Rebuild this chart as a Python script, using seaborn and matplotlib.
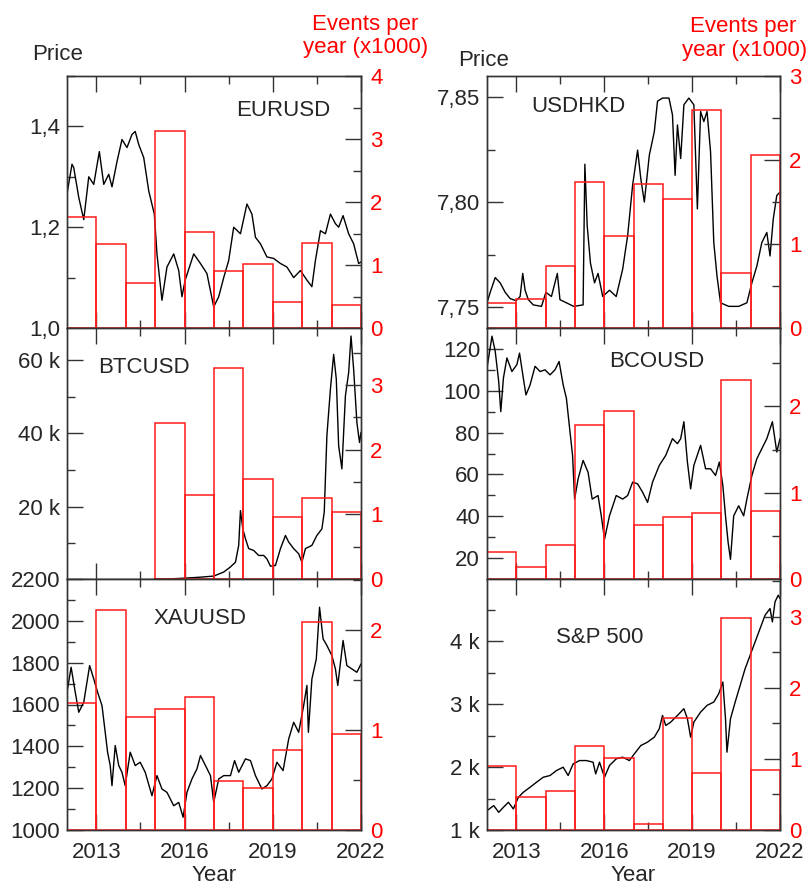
from __future__ import annotations

import matplotlib

matplotlib.use("Agg")

import matplotlib.pyplot as plt
import pandas as pd
import seaborn as sns
from matplotlib.ticker import FixedLocator, FuncFormatter, MultipleLocator

# yearly bins of the event histograms (left edges)
BIN_YEARS = list(range(2012, 2022))

# events per year (x1000), one value per bin
eurusd_events = [1.76, 1.33, 0.71, 3.13, 1.52, 0.90, 1.02, 0.41, 1.35, 0.37]
usdhkd_events = [0.30, 0.34, 0.74, 1.74, 1.09, 1.72, 1.54, 2.59, 0.65, 2.06]
btcusd_events = [0, 0, 0, 2.41, 1.30, 3.26, 1.54, 0.96, 1.25, 1.03]
bcousd_events = [0.31, 0.14, 0.39, 1.78, 1.95, 0.63, 0.72, 0.77, 2.31, 0.79]
xauusd_events = [1.27, 2.20, 1.13, 1.21, 1.33, 0.49, 0.42, 0.80, 2.08, 0.96]
spx_events = [0.90, 0.47, 0.55, 1.18, 1.01, 0.08, 1.58, 0.80, 2.98, 0.84]

# price series as (decimal year, price)
eurusd_price = [
    (2012.00, 1.266), (2012.17, 1.325), (2012.23, 1.318), (2012.40, 1.259), (2012.57, 1.215),
    (2012.74, 1.300), (2012.91, 1.285), (2013.10, 1.350), (2013.25, 1.285), (2013.42, 1.305),
    (2013.53, 1.280), (2013.70, 1.330), (2013.87, 1.374), (2014.04, 1.358), (2014.21, 1.384),
    (2014.32, 1.390), (2014.44, 1.364), (2014.61, 1.338), (2014.78, 1.272), (2014.97, 1.226),
    (2015.06, 1.147), (2015.23, 1.055), (2015.40, 1.121), (2015.63, 1.147), (2015.80, 1.114),
    (2015.91, 1.062), (2016.02, 1.095), (2016.31, 1.147), (2016.54, 1.128), (2016.76, 1.108),
    (2016.99, 1.042), (2017.16, 1.062), (2017.33, 1.100), (2017.50, 1.134), (2017.67, 1.200),
    (2017.90, 1.187), (2018.12, 1.246), (2018.29, 1.226), (2018.41, 1.180), (2018.58, 1.167),
    (2018.80, 1.141), (2019.03, 1.138), (2019.26, 1.128), (2019.48, 1.121), (2019.71, 1.100),
    (2019.94, 1.114), (2020.16, 1.095), (2020.33, 1.082), (2020.45, 1.134), (2020.62, 1.193),
    (2020.79, 1.187), (2020.96, 1.226), (2021.13, 1.207), (2021.24, 1.200), (2021.39, 1.223),
    (2021.58, 1.187), (2021.75, 1.167), (2021.92, 1.128), (2022.00, 1.131),
]

usdhkd_price = [
    (2012.00, 7.7520), (2012.11, 7.7570), (2012.28, 7.7640), (2012.45, 7.7615), (2012.62, 7.7570),
    (2012.79, 7.7540), (2012.99, 7.7530), (2013.13, 7.7550), (2013.22, 7.7660), (2013.30, 7.7580),
    (2013.41, 7.7535), (2013.58, 7.7510), (2013.86, 7.7503), (2014.01, 7.7570), (2014.20, 7.7550),
    (2014.40, 7.7660), (2014.49, 7.7535), (2014.71, 7.7520), (2014.96, 7.7503), (2015.28, 7.7510),
    (2015.34, 7.8180), (2015.42, 7.7887), (2015.53, 7.7710), (2015.67, 7.7615), (2015.79, 7.7660),
    (2015.95, 7.7550), (2016.18, 7.7580), (2016.41, 7.7550), (2016.63, 7.7680), (2016.80, 7.7840),
    (2016.97, 7.8080), (2017.14, 7.8247), (2017.25, 7.8110), (2017.37, 7.8000), (2017.54, 7.8223),
    (2017.71, 7.8335), (2017.82, 7.8480), (2017.99, 7.8495), (2018.21, 7.8495), (2018.33, 7.8415),
    (2018.42, 7.8127), (2018.50, 7.8367), (2018.61, 7.8207), (2018.72, 7.8463), (2018.89, 7.8495),
    (2019.06, 7.8463), (2019.18, 7.7967), (2019.29, 7.8431), (2019.40, 7.8383), (2019.51, 7.8431),
    (2019.63, 7.8239), (2019.74, 7.7807), (2019.85, 7.7647), (2019.97, 7.7520), (2020.25, 7.7503),
    (2020.59, 7.7503), (2020.87, 7.7520), (2021.04, 7.7615), (2021.21, 7.7695), (2021.38, 7.7807),
    (2021.55, 7.7855), (2021.66, 7.7743), (2021.77, 7.7919), (2021.89, 7.8031), (2022.00, 7.8047),
]

btcusd_price = [
    (2014.97, 270), (2015.40, 200), (2016.00, 430), (2016.54, 700), (2016.99, 1000),
    (2017.33, 2100), (2017.56, 3500), (2017.73, 4800), (2017.84, 9400), (2017.90, 18900),
    (2017.98, 13900), (2018.07, 11200), (2018.18, 8500), (2018.35, 8000), (2018.52, 6640),
    (2018.69, 6640), (2018.80, 5700), (2018.92, 3700), (2019.09, 3900), (2019.26, 8500),
    (2019.43, 12100), (2019.54, 10300), (2019.71, 8500), (2019.88, 7100), (2019.99, 4800),
    (2020.11, 8500), (2020.33, 9400), (2020.50, 12100), (2020.67, 13900), (2020.75, 18500),
    (2020.84, 39400), (2020.96, 52100), (2021.07, 61600), (2021.16, 54800), (2021.24, 36600),
    (2021.35, 30300), (2021.47, 50300), (2021.58, 56600), (2021.66, 66600), (2021.75, 57500),
    (2021.86, 43000), (2021.95, 37500), (2022.00, 40300),
]

bcousd_price = [
    (2012.00, 110.9), (2012.17, 126.1), (2012.28, 118.9), (2012.40, 104.4), (2012.47, 90.0),
    (2012.56, 106.0), (2012.68, 115.7), (2012.85, 109.2), (2013.02, 112.5), (2013.11, 118.0),
    (2013.24, 106.0), (2013.33, 98.0), (2013.47, 102.8), (2013.64, 111.7), (2013.81, 109.2),
    (2013.98, 110.0), (2014.15, 107.6), (2014.32, 110.0), (2014.46, 114.0), (2014.60, 102.8),
    (2014.71, 96.4), (2014.82, 82.0), (2014.92, 69.1), (2014.99, 48.2), (2015.11, 57.9),
    (2015.28, 66.7), (2015.45, 61.0), (2015.59, 48.2), (2015.79, 49.9), (2015.90, 40.2),
    (2016.01, 29.0), (2016.18, 40.2), (2016.41, 49.9), (2016.63, 48.2), (2016.80, 49.9),
    (2016.97, 56.3), (2017.14, 55.5), (2017.31, 51.5), (2017.48, 46.6), (2017.65, 56.3),
    (2017.88, 64.3), (2018.10, 69.1), (2018.33, 77.1), (2018.50, 74.7), (2018.61, 77.1),
    (2018.72, 85.2), (2018.84, 65.9), (2018.95, 53.1), (2019.06, 64.3), (2019.29, 73.9),
    (2019.46, 62.7), (2019.63, 62.7), (2019.80, 59.5), (2019.93, 65.9), (2020.05, 54.7),
    (2020.14, 40.2), (2020.23, 27.4), (2020.31, 19.4), (2020.42, 40.2), (2020.59, 45.0),
    (2020.76, 40.2), (2020.87, 48.2), (2021.04, 59.5), (2021.21, 67.5), (2021.38, 72.3),
    (2021.55, 77.1), (2021.74, 85.2), (2021.89, 70.7), (2022.00, 77.1),
]

xauusd_price = [
    (2012.00, 1659), (2012.14, 1778), (2012.28, 1659), (2012.40, 1563), (2012.57, 1611),
    (2012.77, 1786), (2012.91, 1722), (2013.04, 1659), (2013.19, 1595), (2013.30, 1467),
    (2013.38, 1372), (2013.47, 1308), (2013.53, 1212), (2013.64, 1404), (2013.76, 1308),
    (2013.87, 1276), (2013.98, 1212), (2014.15, 1372), (2014.32, 1308), (2014.49, 1324),
    (2014.66, 1276), (2014.89, 1164), (2015.06, 1260), (2015.23, 1196), (2015.40, 1180),
    (2015.63, 1116), (2015.80, 1132), (2015.95, 1061), (2016.08, 1180), (2016.25, 1244),
    (2016.42, 1292), (2016.54, 1356), (2016.71, 1308), (2016.88, 1260), (2016.99, 1132),
    (2017.16, 1244), (2017.33, 1260), (2017.56, 1260), (2017.70, 1332), (2017.84, 1276),
    (2018.07, 1340), (2018.24, 1332), (2018.41, 1260), (2018.63, 1196), (2018.80, 1212),
    (2018.97, 1244), (2019.14, 1324), (2019.35, 1284), (2019.54, 1435), (2019.71, 1515),
    (2019.88, 1467), (2020.05, 1595), (2020.16, 1691), (2020.21, 1467), (2020.33, 1722),
    (2020.48, 1818), (2020.59, 2065), (2020.71, 1914), (2020.84, 1882), (2021.01, 1834),
    (2021.13, 1770), (2021.21, 1691), (2021.39, 1906), (2021.52, 1786), (2021.69, 1770),
    (2021.86, 1754), (2022.00, 1794),
]

spx_price = [
    (2012.00, 1308), (2012.23, 1388), (2012.40, 1281), (2012.56, 1361), (2012.73, 1441),
    (2012.90, 1335), (2013.07, 1520), (2013.24, 1600), (2013.47, 1680), (2013.69, 1759),
    (2013.92, 1839), (2014.15, 1866), (2014.37, 1945), (2014.60, 1998), (2014.77, 1866),
    (2014.94, 2051), (2015.16, 2104), (2015.39, 2104), (2015.62, 2078), (2015.71, 1892),
    (2015.84, 2078), (2016.01, 1839), (2016.18, 2025), (2016.41, 2131), (2016.63, 2158),
    (2016.86, 2104), (2017.03, 2211), (2017.25, 2343), (2017.48, 2397), (2017.71, 2476),
    (2017.88, 2609), (2017.99, 2821), (2018.10, 2662), (2018.27, 2715), (2018.50, 2821),
    (2018.72, 2928), (2018.84, 2768), (2018.95, 2476), (2019.06, 2715), (2019.29, 2874),
    (2019.51, 2981), (2019.74, 3034), (2019.91, 3167), (2020.05, 3352), (2020.14, 2768),
    (2020.19, 2237), (2020.31, 2768), (2020.47, 3034), (2020.64, 3299), (2020.81, 3565),
    (2020.98, 3777), (2021.15, 3990), (2021.32, 4202), (2021.49, 4414), (2021.66, 4520),
    (2021.74, 4308), (2021.83, 4627), (2021.94, 4733), (2022.00, 4680),
]


def comma(decimals):
    return FuncFormatter(lambda v, _: f"{v:.{decimals}f}".replace(".", ","))


kilo = FuncFormatter(lambda v, _: f"{v / 1000:.0f} k")
plain = FuncFormatter(lambda v, _: f"{v:.0f}")

PANELS = [
    dict(name="EURUSD", price=eurusd_price, events=eurusd_events, col=0, row=0,
         ylim=(1.0, 1.5), major=0.2, minor=0.1, fmt=comma(1), rlim=(0, 4), label=(283.5, 116)),
    dict(name="BTCUSD", price=btcusd_price, events=btcusd_events, col=0, row=1,
         ylim=(200, 68800), major=20000, minor=10000, fmt=kilo, rlim=(0, 3.88), label=(143.5, 373)),
    dict(name="XAUUSD", price=xauusd_price, events=xauusd_events, col=0, row=2,
         ylim=(1000, 2200), major=200, minor=100, fmt=plain, rlim=(0, 2.51), label=(200.5, 624)),
    dict(name="USDHKD", price=usdhkd_price, events=usdhkd_events, col=1, row=0,
         ylim=(7.74, 7.86), major=0.05, minor=0.025, fmt=comma(2), rlim=(0, 3), label=(578, 112)),
    dict(name="BCOUSD", price=bcousd_price, events=bcousd_events, col=1, row=1,
         ylim=(10, 130), major=20, minor=10, fmt=plain, rlim=(0, 2.91), label=(657, 367)),
    dict(name="S&P 500", price=spx_price, events=spx_events, col=1, row=2,
         ylim=(1000, 4990), major=1000, minor=500, fmt=kilo, rlim=(0, 3.53), label=(600, 643)),
]

W, H = 812, 885
COL_X = [(67, 294), (487, 293)]
ROW_Y = [(76, 328), (328, 579), (579, 830)]
FS = 16
SPINE = "#333333"

sns.set_theme(style="ticks")
plt.rcParams["font.family"] = ["Liberation Sans", "DejaVu Sans"]

fig = plt.figure(figsize=(W / 100, H / 100), dpi=100)


def fx(x):
    return x / W


def fy(y):
    return 1 - y / H


for p in PANELS:
    x0, w = COL_X[p["col"]]
    top, bottom = ROW_Y[p["row"]]
    ax = fig.add_axes([fx(x0), fy(bottom), w / W, (bottom - top) / H])

    df = pd.DataFrame(p["price"], columns=["year", "price"])
    sns.lineplot(data=df, x="year", y="price", ax=ax, color="black",
                 linewidth=1.0, estimator=None, sort=False)

    axr = ax.twinx()
    ev = pd.DataFrame({"mid": [y + 0.5 for y in BIN_YEARS], "events": p["events"]})
    ev = ev[ev["events"] > 0]
    first = int(ev["mid"].min() - 0.5)
    sns.histplot(data=ev, x="mid", weights="events", binwidth=1, binrange=(first, 2022),
                 fill=False, element="bars", color="#ff1a1a", linewidth=1.1, ax=axr)

    ax.set_xlim(2012, 2022)
    ax.set_ylim(*p["ylim"])
    axr.set_ylim(*p["rlim"])
    for a in (ax, axr):
        a.set_xlabel("")
        a.set_ylabel("")
        for s in a.spines.values():
            s.set_visible(True)
            s.set_color(SPINE)
            s.set_linewidth(1.0)

    ax.xaxis.set_major_locator(FixedLocator([2013, 2016, 2019, 2022]))
    ax.xaxis.set_minor_locator(FixedLocator([2014.5, 2017.5, 2020.5]))
    ax.xaxis.set_major_formatter(plain)
    ax.tick_params(axis="x", which="both", direction="in", top=True, bottom=True,
                   labelbottom=p["row"] == 2, labelsize=FS, pad=8.5, color=SPINE, width=1)
    ax.tick_params(axis="x", which="major", length=11.5)
    ax.tick_params(axis="x", which="minor", length=5.8)

    ax.yaxis.set_major_locator(MultipleLocator(p["major"]))
    ax.yaxis.set_minor_locator(MultipleLocator(p["minor"]))
    ax.yaxis.set_major_formatter(p["fmt"])
    ax.tick_params(axis="y", which="both", direction="in", left=True, right=False,
                   labelsize=FS, pad=5, color=SPINE, width=1)
    ax.tick_params(axis="y", which="major", length=11.5)
    ax.tick_params(axis="y", which="minor", length=5.8)

    axr.yaxis.set_major_locator(MultipleLocator(1))
    axr.yaxis.set_minor_locator(MultipleLocator(0.5))
    axr.yaxis.set_major_formatter(plain)
    axr.tick_params(axis="y", which="both", direction="in", right=True, left=False,
                    labelsize=FS, pad=6.5, color=SPINE, width=1, labelcolor="red")
    axr.tick_params(axis="y", which="major", length=11.5)
    axr.tick_params(axis="y", which="minor", length=5.8)

    lx, ly = p["label"]
    fig.text(fx(lx), fy(ly), p["name"], fontsize=FS, ha="center", va="baseline")

# column headers
fig.text(fx(32), fy(60), "Price", fontsize=FS, ha="left", va="baseline")
fig.text(fx(458), fy(66), "Price", fontsize=FS, ha="left", va="baseline")
fig.text(fx(365), fy(30), "Events per", fontsize=FS, color="red", ha="center", va="baseline")
fig.text(fx(366), fy(53), "year (x1000)", fontsize=FS, color="red", ha="center", va="baseline")
fig.text(fx(743), fy(32), "Events per", fontsize=FS, color="red", ha="center", va="baseline")
fig.text(fx(745), fy(56), "year (x1000)", fontsize=FS, color="red", ha="center", va="baseline")
fig.text(fx(214), fy(881), "Year", fontsize=FS, ha="center", va="baseline")
fig.text(fx(633.5), fy(881), "Year", fontsize=FS, ha="center", va="baseline")

fig.savefig("out.png", dpi=100)
plt.close(fig)
